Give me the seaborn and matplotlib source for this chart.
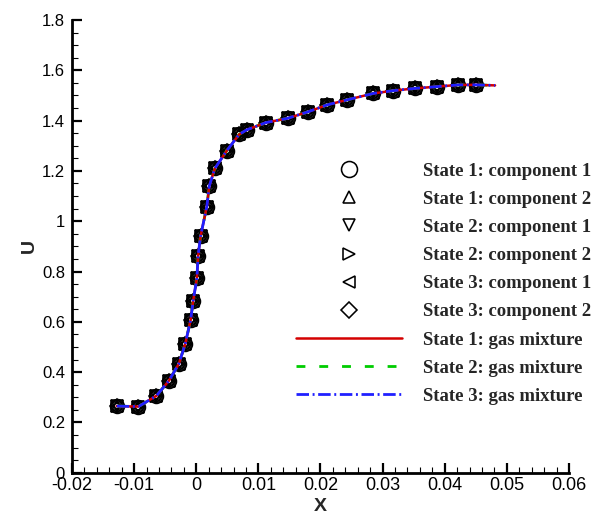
import numpy as np
import pandas as pd
import matplotlib
matplotlib.use("Agg")
import matplotlib.pyplot as plt
from matplotlib.ticker import MultipleLocator, FuncFormatter
import seaborn as sns

# ---- data ----
x_pts = [-0.0128, -0.0093, -0.0064, -0.0044, -0.0028, -0.0018, -0.0009, -0.0005,
         0.0001, 0.0003, 0.0007, 0.0017, 0.0021, 0.0030, 0.0049, 0.0069, 0.0081,
         0.0112, 0.0147, 0.0180, 0.0210, 0.0242, 0.0285, 0.0317, 0.0352, 0.0387,
         0.0422, 0.0451]
u_pts = [0.265, 0.263, 0.306, 0.366, 0.433, 0.510, 0.607, 0.683,
         0.773, 0.863, 0.941, 1.058, 1.140, 1.210, 1.280, 1.345, 1.363,
         1.392, 1.409, 1.435, 1.462, 1.482, 1.508, 1.519, 1.528, 1.535,
         1.542, 1.542]

x_line = x_pts + [0.0481]
u_line = u_pts + [1.540]

marker_labels = ["State 1: component 1", "State 1: component 2",
                 "State 2: component 1", "State 2: component 2",
                 "State 3: component 1", "State 3: component 2"]
marker_shapes = ["o", "^", "v", ">", "<", "D"]
marker_sizes = [10, 8, 8, 8, 8, 7]

line_labels = ["State 1: gas mixture", "State 2: gas mixture", "State 3: gas mixture"]
line_colors = ["#d40000", "#00cc00", "#2020ff"]
line_styles = ["-", (0, (3.2, 5)), (0, (4.5, 1.3, 0.7, 1.3))]
line_widths = [1.8, 2, 2]
line_z = [4, 3, 5]

fmt = lambda v, p: "%g" % round(v, 4)

# ---- plot ----
sns.set_style("ticks")
plt.rcParams["font.family"] = ["Liberation Sans", "DejaVu Sans"]
plt.rcParams["axes.unicode_minus"] = False

fig = plt.figure(figsize=(6.05, 5.14), dpi=100)
ax = fig.add_axes([0.119, 0.0803, 0.8215, 0.8808])

df_line = pd.DataFrame({"X": x_line, "U": u_line})
df_pts = pd.DataFrame({"X": x_pts, "U": u_pts})

for lab, m, ms in zip(marker_labels, marker_shapes, marker_sizes):
    sns.lineplot(data=df_pts, x="X", y="U", ax=ax, label=lab, linestyle="",
                 marker=m, markersize=ms, markerfacecolor="none",
                 markeredgecolor="black", markeredgewidth=1.15, color="black",
                 sort=False, estimator=None, zorder=2)

for lab, c, ls, lw, z in zip(line_labels, line_colors, line_styles, line_widths, line_z):
    sns.lineplot(data=df_line, x="X", y="U", ax=ax, label=lab, color=c,
                 linestyle=ls, linewidth=lw, sort=False, estimator=None, zorder=z)

ax.set_xlim(-0.02, 0.06)
ax.set_ylim(0, 1.8)
ax.xaxis.set_major_locator(MultipleLocator(0.01))
ax.xaxis.set_minor_locator(MultipleLocator(0.002))
ax.yaxis.set_major_locator(MultipleLocator(0.2))
ax.yaxis.set_minor_locator(MultipleLocator(0.05))
ax.xaxis.set_major_formatter(FuncFormatter(fmt))
ax.yaxis.set_major_formatter(FuncFormatter(fmt))

for s in ["top", "right"]:
    ax.spines[s].set_visible(False)
for s in ["left", "bottom"]:
    ax.spines[s].set_linewidth(2)
    ax.spines[s].set_color("black")

ax.tick_params(which="major", direction="in", length=7.2, width=1.6, colors="black")
ax.tick_params(which="minor", direction="in", length=4.3, width=0.8, colors="black")
ax.tick_params(axis="x", which="major", labelsize=13, pad=3)
ax.tick_params(axis="y", which="major", labelsize=12, pad=5)

ax.set_xlabel("X", fontsize=14, fontweight="bold", labelpad=3)
ax.set_ylabel("U", fontsize=14, fontweight="bold", labelpad=3)

leg = ax.legend(loc="upper left", bbox_to_anchor=(0.4356, 0.702), frameon=False,
                prop={"family": ["Liberation Serif"], "weight": "bold", "size": 13.5},
                handlelength=5.65, handletextpad=1.1, labelspacing=0.59,
                borderaxespad=0, markerscale=1.15)

fig.savefig("out.png", dpi=100)
